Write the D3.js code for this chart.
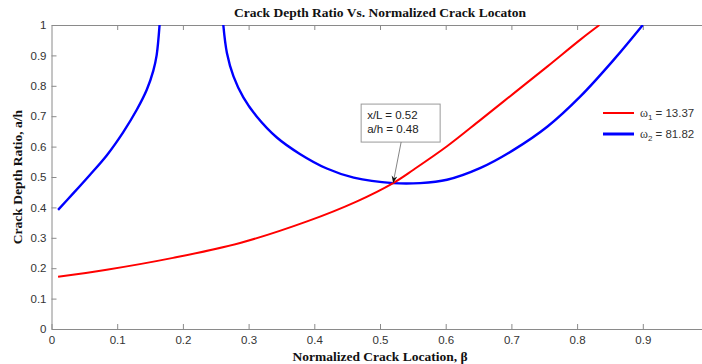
<!DOCTYPE html>
<meta charset="utf-8">
<style>
body { margin: 0; background: #fff; }
.axis path, .axis line { stroke: #8a8a8a; }
.axis text { fill: #333; font-family: "Liberation Sans", Arial, sans-serif; font-size: 11.5px; }
.title, .label { font-family: "Liberation Serif", "Times New Roman", serif; font-weight: bold; font-size: 13.5px; fill: #111; }
.ann { font-family: "Liberation Sans", Arial, sans-serif; font-size: 11.5px; fill: #222; }
.leg { font-family: "Liberation Sans", Arial, sans-serif; font-size: 11.5px; fill: #333; }
</style>
<svg width="702" height="364"></svg>
<script src="https://d3js.org/d3.v7.min.js"></script>
<script>

// omega_1 = 13.37 (red)
var betaRed  = [0.01, 0.084, 0.185, 0.287, 0.389, 0.465, 0.52, 0.551, 0.602, 0.653, 0.704, 0.755, 0.805, 0.834];
var depthRed = [0.172, 0.195, 0.234, 0.283, 0.354, 0.420, 0.48, 0.524, 0.601, 0.688, 0.776, 0.864, 0.952, 1.0];

// omega_2 = 81.82 (blue), two branches
var betaBlueL  = [0.01, 0.033, 0.058, 0.084, 0.109, 0.130, 0.145, 0.155, 0.160, 0.1645];
var depthBlueL = [0.392, 0.446, 0.506, 0.571, 0.647, 0.722, 0.787, 0.850, 0.900, 1.0];
var betaBlueR  = [0.2615, 0.267, 0.277, 0.292, 0.312, 0.343, 0.378, 0.419, 0.460, 0.52, 0.561, 0.602, 0.653, 0.704, 0.755, 0.805, 0.856, 0.90];
var depthBlueR = [1.0, 0.908, 0.831, 0.762, 0.700, 0.630, 0.576, 0.528, 0.498, 0.48, 0.48, 0.491, 0.530, 0.590, 0.666, 0.765, 0.886, 1.0];

var xTicks = [0, 0.1, 0.2, 0.3, 0.4, 0.5, 0.6, 0.7, 0.8, 0.9];
var yTicks = [0, 0.1, 0.2, 0.3, 0.4, 0.5, 0.6, 0.7, 0.8, 0.9, 1];
var legendLabels = ["13.37", "81.82"];

var svg = d3.select("svg"),
    margin = {top: 25, left: 51.5},
    width = 657,
    height = 304;

var x = d3.scaleLinear().domain([0, 1]).range([0, width]),
    y = d3.scaleLinear().domain([0, 1]).range([height, 0]);

var g = svg.append("g")
    .attr("transform", "translate(" + margin.left + "," + margin.top + ")");

svg.append("defs").append("clipPath")
    .attr("id", "clip")
  .append("rect")
    .attr("width", width)
    .attr("height", height);

var fmt = function(d) { return d === 0 ? "0" : d === 1 ? "1" : d3.format(".1f")(d); };

g.append("g")
    .attr("class", "axis")
    .attr("transform", "translate(0," + height + ")")
    .call(d3.axisBottom(x).tickValues(xTicks).tickSizeInner(-5).tickSizeOuter(0).tickPadding(7).tickFormat(fmt));

g.append("g")
    .attr("class", "axis")
    .call(d3.axisTop(x).tickValues(xTicks.slice(1)).tickSizeInner(-5).tickSizeOuter(0).tickFormat(""));

g.append("g")
    .attr("class", "axis")
    .call(d3.axisLeft(y).tickValues(yTicks).tickSizeInner(-5).tickSizeOuter(0).tickPadding(5).tickFormat(fmt));

var line = d3.line()
    .curve(d3.curveCatmullRom.alpha(0.5))
    .x(function(d) { return x(d[0]); })
    .y(function(d) { return y(d[1]); });

var plot = g.append("g").attr("clip-path", "url(#clip)");

plot.append("path")
    .datum(d3.zip(betaBlueL, depthBlueL))
    .attr("fill", "none").attr("stroke", "#0000ff").attr("stroke-width", 2.4)
    .attr("d", line);

plot.append("path")
    .datum(d3.zip(betaBlueR, depthBlueR))
    .attr("fill", "none").attr("stroke", "#0000ff").attr("stroke-width", 2.4)
    .attr("d", line);

plot.append("path")
    .datum(d3.zip(betaRed, depthRed))
    .attr("fill", "none").attr("stroke", "#ff0000").attr("stroke-width", 2)
    .attr("d", line);

// title and labels
svg.append("text").attr("class", "title")
    .attr("x", margin.left + width / 2).attr("y", 17)
    .attr("text-anchor", "middle")
    .text("Crack Depth Ratio Vs. Normalized Crack Locaton");

svg.append("text").attr("class", "label")
    .attr("x", margin.left + width / 2).attr("y", 361)
    .attr("text-anchor", "middle")
    .text("Normalized Crack Location, β");

svg.append("text").attr("class", "label")
    .attr("transform", "translate(22," + (margin.top + height / 2) + ") rotate(-90)")
    .attr("text-anchor", "middle")
    .text("Crack Depth Ratio, a/h");

// annotation at the crossing point
var px = x(0.52), py = y(0.48);
svg.append("defs").append("marker")
    .attr("id", "arr").attr("viewBox", "0 0 10 10")
    .attr("refX", 10).attr("refY", 5)
    .attr("markerWidth", 9).attr("markerHeight", 9)
    .attr("orient", "auto-start-reverse")
  .append("path").attr("d", "M0,1 L10,5 L0,9 L3,5 Z").attr("fill", "#111");

var ann = g.append("g").attr("transform", "translate(" + (px - 32) + "," + (py - 79) + ")");
ann.append("rect")
    .attr("width", 79).attr("height", 38)
    .attr("fill", "#fff").attr("stroke", "#999").attr("stroke-width", 1);
ann.append("text").attr("class", "ann").attr("x", 6).attr("y", 15).text("x/L = 0.52");
ann.append("text").attr("class", "ann").attr("x", 6).attr("y", 29).text("a/h = 0.48");

g.append("line")
    .attr("x1", px + 8).attr("y1", py - 41)
    .attr("x2", px).attr("y2", py)
    .attr("stroke", "#666").attr("stroke-width", 0.8)
    .attr("marker-end", "url(#arr)");

// legend
var leg = svg.append("g").attr("transform", "translate(603,113)");
var legColors = ["#ff0000", "#0000ff"], legWidths = [2, 3];
legendLabels.forEach(function(v, i) {
  var row = leg.append("g").attr("transform", "translate(0," + (i * 21) + ")");
  row.append("line").attr("x1", 0).attr("x2", 31)
      .attr("stroke", legColors[i]).attr("stroke-width", legWidths[i]);
  var t = row.append("text").attr("class", "leg").attr("x", 37).attr("y", 4);
  t.append("tspan").attr("font-family", "'Liberation Serif', serif").attr("font-size", "12px").text("ω");
  t.append("tspan").attr("font-size", "8px").attr("dy", 3).text(i + 1);
  t.append("tspan").attr("dy", -3).text(" = " + v);
});

</script>
